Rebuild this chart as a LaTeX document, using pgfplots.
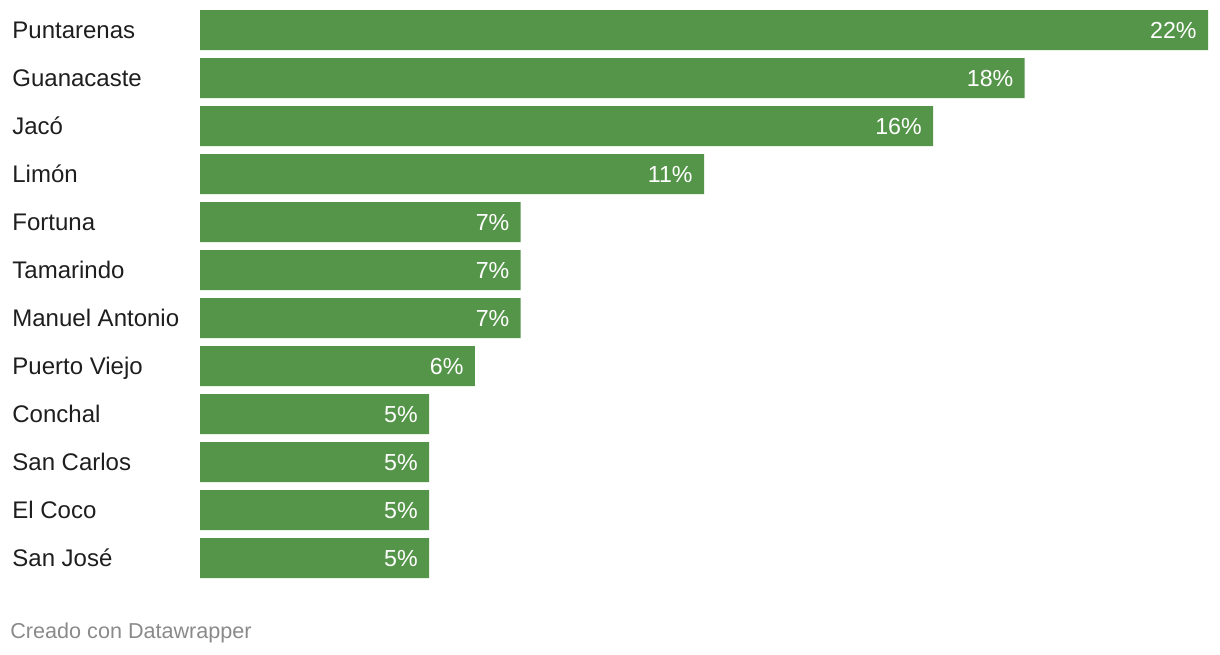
\documentclass[border=0pt]{standalone}
\usepackage{pgfplots}
\pgfplotsset{compat=1.18}
\usepackage{fontspec}
\setmainfont{Liberation Sans}
\definecolor{barg}{RGB}{85,149,73}
\definecolor{lbl}{RGB}{30,30,30}
\definecolor{foot}{RGB}{138,138,138}
\begin{document}
\begin{tikzpicture}
\path[use as bounding box] (0,0) rectangle (610pt,327pt);
\begin{axis}[
  at={(100pt,36pt)}, anchor=south west,
  scale only axis, width=504pt, height=288pt,
  xbar, bar width=20pt, bar shift=0pt,
  xmin=0, xmax=22, ymin=-0.5, ymax=11.5, y dir=reverse,
  axis line style={draw=none}, major tick length=0pt,
  xtick=\empty,
  ytick={0,...,11},
  yticklabels={Puntarenas,Guanacaste,Jacó,Limón,Fortuna,Tamarindo,Manuel Antonio,Puerto Viejo,Conchal,San Carlos,El Coco,San José},
  yticklabel style={anchor=west, inner sep=0pt, xshift=-94pt, text=lbl,
    font=\fontsize{12pt}{14pt}\selectfont, text height=8.5pt, text depth=0pt},
  nodes near coords={\pgfmathprintnumber[fixed,precision=0,assume math mode=true]{\pgfplotspointmeta}\%},
  every node near coord/.append style={anchor=east, inner sep=0pt, xshift=-5.5pt, text=white,
    font=\fontsize{11.6pt}{14pt}\selectfont, text height=8.35pt, text depth=0pt},
  clip=false,
]
\addplot[fill=barg, draw=none] table[x=v, y=i] {
i v
0 22
1 18
2 16
3 11
4 7
5 7
6 7
7 6
8 5
9 5
10 5
11 5
};
\end{axis}
\node[anchor=base west, inner sep=0pt, text=foot, font=\fontsize{10.8pt}{12pt}\selectfont] at (5pt,8pt) {Creado con Datawrapper};
\end{tikzpicture}
\end{document}
